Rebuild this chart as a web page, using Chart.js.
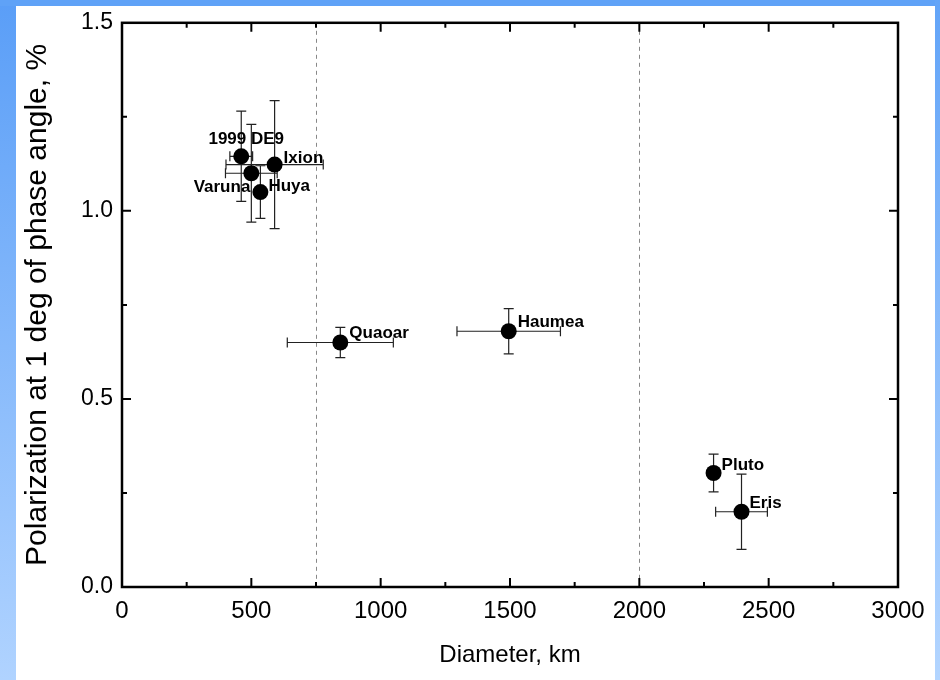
<!DOCTYPE html>
<html>
<head>
<meta charset="utf-8">
<script src="https://cdn.jsdelivr.net/npm/chart.js@4.4.1/dist/chart.umd.min.js"></script>
<style>
  html, body { margin: 0; padding: 0; background: #fff; }
  #wrap { position: relative; width: 940px; height: 680px; overflow: hidden; background: #fff; }
  .edgeL { position: absolute; left: 0; top: 0; width: 16px; height: 680px;
           background: linear-gradient(#5a9ef7, #b0d3ff); }
  .edgeT { position: absolute; left: 0; top: 0; width: 940px; height: 6px; background: #5fa2f7; }
  .edgeR { position: absolute; left: 935px; top: 0; width: 5px; height: 680px;
           background: linear-gradient(#62a4f8, #b3d5ff); }
  canvas { position: absolute; left: 0; top: 0; }
</style>
</head>
<body>
<div id="wrap">
  <div class="edgeL"></div>
  <div class="edgeT"></div>
  <div class="edgeR"></div>
  <canvas id="polChart" width="940" height="680"></canvas>
</div>
<script>
const names = ['1999 DE9', 'Varuna', 'Ixion', 'Huya', 'Quaoar', 'Haumea', 'Pluto', 'Eris'];
const diameter = [461, 500, 590, 535, 844, 1495, 2287, 2395];
const diameterErr = [44, 100, 188, 0, 205, 200, 0, 100];
const polarization = [1.145, 1.10, 1.123, 1.05, 0.65, 0.68, 0.303, 0.20];
const polarizationErr = [0.12, 0.13, 0.17, 0.07, 0.04, 0.06, 0.05, 0.10];
const xTicks = [0, 500, 1000, 1500, 2000, 2500, 3000];
const yTicks = [0.0, 0.5, 1.0, 1.5];
const dividers = [750, 2000];

// label placement next to each point: [dx, dy, align]
const labelPlace = [
  [5, -17, 'center'],
  [-1, 14, 'right'],
  [9, -6, 'left'],
  [8, -6, 'left'],
  [9, -9, 'left'],
  [9, -9, 'left'],
  [8, -8, 'left'],
  [8, -8, 'left']
];

const sans = "'Liberation Sans', Arial, sans-serif";

const points = diameter.map((d, i) => ({ x: d, y: polarization[i] }));

const framePlugin = {
  id: 'frame',
  beforeDatasetsDraw(chart) {
    const { ctx, chartArea: a, scales: { x, y } } = chart;
    ctx.save();
    // dashed dividers
    ctx.strokeStyle = '#888';
    ctx.lineWidth = 1;
    ctx.setLineDash([4, 4]);
    dividers.forEach(v => {
      const px = Math.round(x.getPixelForValue(v)) + 0.5;
      ctx.beginPath();
      ctx.moveTo(px, a.top);
      ctx.lineTo(px, a.bottom);
      ctx.stroke();
    });
    ctx.setLineDash([]);
    // error bars
    ctx.strokeStyle = '#222';
    ctx.lineWidth = 1.2;
    points.forEach((p, i) => {
      const px = x.getPixelForValue(p.x);
      const py = y.getPixelForValue(p.y);
      const ey = polarizationErr[i];
      if (ey) {
        const t = y.getPixelForValue(p.y + ey);
        const b = y.getPixelForValue(p.y - ey);
        ctx.beginPath();
        ctx.moveTo(px, t); ctx.lineTo(px, b);
        ctx.moveTo(px - 5, t); ctx.lineTo(px + 5, t);
        ctx.moveTo(px - 5, b); ctx.lineTo(px + 5, b);
        ctx.stroke();
      }
      const ex = diameterErr[i];
      if (ex) {
        const l = x.getPixelForValue(p.x - ex);
        const r = x.getPixelForValue(p.x + ex);
        ctx.beginPath();
        ctx.moveTo(l, py); ctx.lineTo(r, py);
        ctx.moveTo(l, py - 5); ctx.lineTo(l, py + 5);
        ctx.moveTo(r, py - 5); ctx.lineTo(r, py + 5);
        ctx.stroke();
      }
    });
    ctx.restore();
  },
  afterDraw(chart) {
    const { ctx, chartArea: a, scales: { x, y } } = chart;
    ctx.save();
    // point labels
    ctx.fillStyle = '#000';
    ctx.font = 'bold 17px ' + sans;
    ctx.textBaseline = 'middle';
    points.forEach((p, i) => {
      const [dx, dy, al] = labelPlace[i];
      ctx.textAlign = al;
      ctx.fillText(names[i], x.getPixelForValue(p.x) + dx, y.getPixelForValue(p.y) + dy);
    });
    // box
    ctx.strokeStyle = '#000';
    ctx.lineWidth = 2.5;
    ctx.strokeRect(a.left, a.top, a.right - a.left, a.bottom - a.top);
    // inward ticks
    ctx.lineWidth = 2;
    ctx.beginPath();
    for (let v = 250; v < 3000; v += 250) {
      const len = v % 500 === 0 ? 9 : 5;
      const px = x.getPixelForValue(v);
      ctx.moveTo(px, a.bottom); ctx.lineTo(px, a.bottom - len);
      ctx.moveTo(px, a.top); ctx.lineTo(px, a.top + len);
    }
    for (let v = 0.25; v < 1.5; v += 0.25) {
      const len = Math.abs(v % 0.5) < 1e-6 ? 9 : 5;
      const py = y.getPixelForValue(v);
      ctx.moveTo(a.left, py); ctx.lineTo(a.left + len, py);
      ctx.moveTo(a.right, py); ctx.lineTo(a.right - len, py);
    }
    ctx.stroke();
    ctx.restore();
  }
};

const ctx = document.getElementById('polChart').getContext('2d');
const polChart = new Chart(ctx, {
  type: 'scatter',
  data: {
    datasets: [{
      label: 'Polarization',
      data: points,
      backgroundColor: '#000',
      borderColor: '#000',
      pointRadius: 8,
      pointHoverRadius: 8,
      borderWidth: 0
    }]
  },
  options: {
    responsive: false,
    animation: false,
    devicePixelRatio: 1,
    layout: { padding: { left: 0, top: 22, right: 42, bottom: 0 } },
    plugins: { legend: { display: false }, tooltip: { enabled: false } },
    scales: {
      x: {
        type: 'linear',
        min: 0,
        max: 3000,
        afterBuildTicks: s => { s.ticks = xTicks.map(v => ({ value: v })); },
        afterFit: s => { s.height = 93; },
        grid: { display: false, drawTicks: false },
        border: { display: false },
        ticks: { color: '#000', padding: 10, maxRotation: 0, callback: v => String(v),
                 font: { family: sans, size: 24 } },
        title: { display: true, text: 'Diameter, km', color: '#000',
                 padding: { top: 4, bottom: 10 }, font: { family: sans, size: 24 } }
      },
      y: {
        type: 'linear',
        min: 0,
        max: 1.5,
        afterBuildTicks: s => { s.ticks = yTicks.map(v => ({ value: v })); },
        afterFit: s => { s.width = 122; },
        grid: { display: false, drawTicks: false },
        border: { display: false },
        ticks: { color: '#000', padding: 9, callback: v => v.toFixed(1),
                 font: { family: sans, size: 23 } },
        title: { display: true, text: 'Polarization at 1 deg of phase angle, %', color: '#000',
                 padding: { top: 20, bottom: 0 }, font: { family: sans, size: 30 } }
      }
    }
  },
  plugins: [framePlugin]
});
</script>
</body>
</html>
